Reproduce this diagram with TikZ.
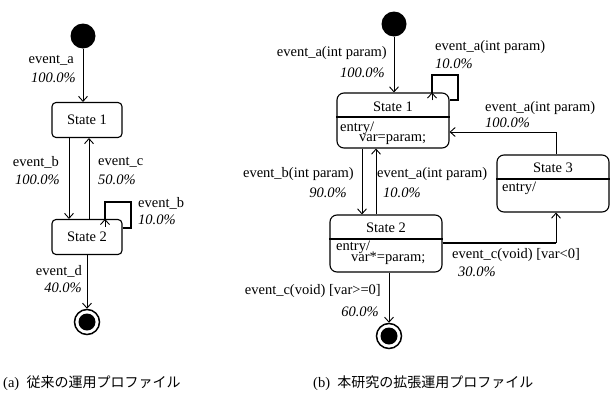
\documentclass[tikz,border=0pt]{standalone}
\usepackage{fontspec}
\setmainfont{Liberation Serif}
\newfontfamily\cjk{Noto Sans CJK JP}
\usetikzlibrary{arrows.meta}
\begin{document}
\begin{tikzpicture}[x=1pt,y=-1pt,
  font=\fontsize{14.5}{16}\selectfont,
  arr/.style={line width=0.8pt,-{Straight Barb[length=5pt,width=9pt,line width=0.9pt]}},
  boldline/.style={line width=2pt},
  lbl/.style={inner sep=0pt},
  pct/.style={inner sep=0pt,font=\fontsize{14.5}{16}\selectfont\itshape},
  stateL/.style={draw,line width=1.1pt,rounded corners=4pt,minimum width=70pt,minimum height=35pt,inner sep=0pt},
  stateR/.style={draw,line width=1.1pt,rounded corners=7pt,minimum width=112pt,inner sep=0pt},
  initial/.style={circle,fill=black,minimum size=25pt,inner sep=0pt},
  final/.style={circle,draw,line width=1.5pt,minimum size=25pt,inner sep=0pt,
    path picture={\fill (path picture bounding box.center) circle (8.5pt);}}]
\useasboundingbox (0,0) rectangle (613,399);

% ---------- (a) ----------
\node[initial] (i1) at (83,36) {};
\node[stateL] (L1) at (87,120) {State 1};
\node[stateL] (L2) at (87,237) {State 2};
\node[final] (f1) at (87,322) {};

\draw[arr] (i1.south) -- (i1.south |- L1.north);
\draw[arr] ([xshift=-18pt]L1.south) -- ([xshift=-18pt]L2.north);
\draw[arr] ([xshift=2pt]L2.north) -- ([xshift=2pt]L1.south);
\coordinate (la1) at (131,228);
\coordinate (la2) at (131,202);
\coordinate (la3) at (105,202);
\draw[boldline] (L2.east |- la1) -- (la1) -- (la2) -- (la3) -- ([yshift=-1pt]la3 |- L2.north);
\draw[arr] ([yshift=-8pt]la3 |- L2.north) -- (la3 |- L2.north);
\draw[arr] (L2.south) -- (f1.north);

\node[lbl,anchor=east] (ta1) at (74,60) {event\_a};
\node[pct,anchor=east] (pa1) at (76,78) {100.0\%};
\node[lbl,anchor=east] (tb1) at (59,162) {event\_b};
\node[pct,anchor=east] (pb1) at (60,180) {100.0\%};
\node[lbl,anchor=west] (tc1) at (98,162) {event\_c};
\node[pct,anchor=west] (pc1) at (98,180) {50.0\%};
\node[lbl,anchor=west] (tb2) at (138,203) {event\_b};
\node[pct,anchor=west] (pb2) at (138,220) {10.0\%};
\node[lbl,anchor=east] (td1) at (82,271) {event\_d};
\node[pct,anchor=east] (pd1) at (82,288) {40.0\%};

% ---------- (b) ----------
\node[initial] (i2) at (394,24) {};
\node[stateR,minimum height=55pt] (R1) at (393,120.5) {};
\node[stateR,minimum height=57pt] (R2) at (386,243.5) {};
\node[stateR,minimum height=57pt] (R3) at (553,183.5) {};
\node[final] (f2) at (389,336) {};

\draw[line width=1.1pt] (R1.west |- 0,117) -- (R1.east |- 0,117);
\draw[line width=1.1pt] (R2.west |- 0,239) -- (R2.east |- 0,239);
\draw[line width=1.1pt] (R3.west |- 0,179) -- (R3.east |- 0,179);

\node[lbl] (n1) at (393,107) {State 1};
\node[lbl,anchor=west] (e1) at (340,128) {entry/};
\node[lbl,anchor=west] (v1) at (359,140) {var=param;};
\node[lbl] (n2) at (386,228) {State 2};
\node[lbl,anchor=west] (e2) at (336,247) {entry/};
\node[lbl,anchor=west] (v2) at (351,258.5) {var*=param;};
\node[lbl] (n3) at (553,168) {State 3};
\node[lbl,anchor=west] (e3) at (502,188) {entry/};

\draw[arr] (i2.south) -- (i2.south |- R1.north);
\draw[arr] ([xshift=-31pt]R1.south) -- ([xshift=-24pt]R2.north);
\draw[arr] ([xshift=-10pt]R2.north) -- ([xshift=-17pt]R1.south);

\coordinate (rb1) at (458,100);
\coordinate (rb2) at (458,75);
\coordinate (rb3) at (432,75);
\draw[boldline] (R1.east |- rb1) -- (rb1) -- (rb2) -- (rb3) -- ([yshift=-1pt]rb3 |- R1.north);
\draw[arr] ([yshift=-8pt]rb3 |- R1.north) -- (rb3 |- R1.north);

\coordinate (rc1) at (556,132);
\draw[arr] (rc1 |- R3.north) -- (rc1) -- (R1.east |- rc1);

\coordinate (rd1) at (556,243);
\draw[boldline] (R2.east |- rd1) -- (rd1);
\draw[arr] (rd1) -- (rd1 |- R3.south);

\draw[arr] (R2.south -| f2) -- (f2.north);

\node[lbl,anchor=east] (ta2) at (387,53) {event\_a(int param)};
\node[pct,anchor=east] (pa2) at (385,73) {100.0\%};
\node[lbl,anchor=west] (ta3) at (435,47) {event\_a(int param)};
\node[pct,anchor=west] (pa3) at (435,64) {10.0\%};
\node[lbl,anchor=west] (ta4) at (485,108) {event\_a(int param)};
\node[pct,anchor=west] (pa4) at (485,123) {100.0\%};
\node[lbl,anchor=east] (tb3) at (354,174) {event\_b(int param)};
\node[pct,anchor=east] (pb3) at (347,193) {90.0\%};
\node[lbl,anchor=west] (ta5) at (377,174) {event\_a(int param)};
\node[pct,anchor=west] (pa5) at (383,193) {10.0\%};
\node[lbl,anchor=west] (tc2) at (452,255) {event\_c(void) [var<0]};
\node[pct,anchor=west] (pc2) at (458,272) {30.0\%};
\node[lbl,anchor=east] (tc3) at (381,291) {event\_c(void) [var>=0]};
\node[pct,anchor=east] (pc3) at (379,312) {60.0\%};

% ---------- captions ----------
\node[lbl,anchor=west] (capa) at (3,383) {(a)\ \ {\cjk\fontsize{14}{16}\selectfont 従来の運用プロファイル}};
\node[lbl,anchor=west] (capb) at (313,383) {(b)\ \ {\cjk\fontsize{14}{16}\selectfont 本研究の拡張運用プロファイル}};
\end{tikzpicture}
\end{document}
